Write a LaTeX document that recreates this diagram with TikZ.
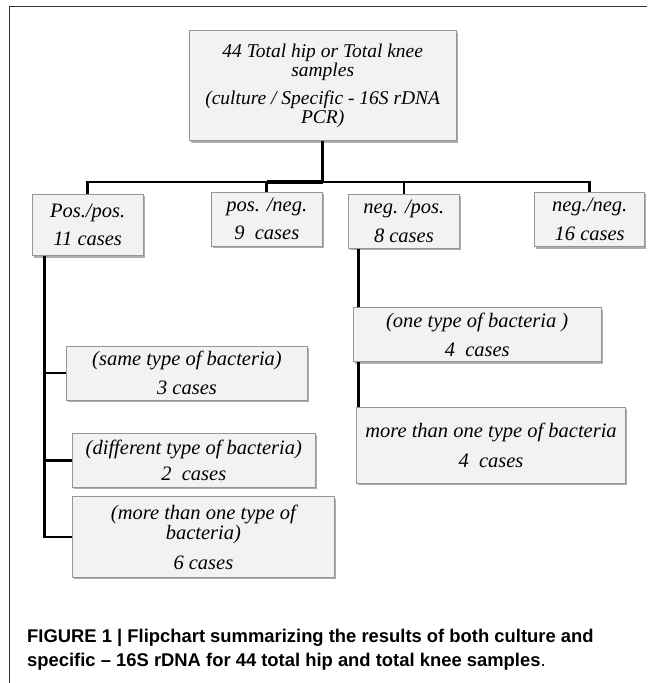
\documentclass[tikz,border=0pt]{standalone}
\usepackage{fontspec}
\setmainfont{Liberation Serif}
\newfontfamily\capfont{Liberation Sans}
\usetikzlibrary{shadows}
\definecolor{boxfill}{RGB}{242,242,242}
\definecolor{boxline}{RGB}{150,150,150}
\tikzset{
  box/.style={draw=boxline, line width=0.7pt, fill=boxfill, inner sep=0pt, align=center,
    font=\itshape\fontsize{20.5}{20.5}\selectfont,
    drop shadow={shadow xshift=1.6pt, shadow yshift=-1.8pt, fill=black!40, opacity=0.8}},
  topbox/.style={box, font=\itshape\fontsize{19.5}{19}\selectfont},
  conn/.style={line width=2.8pt, line cap=butt},
  frame/.style={line width=1pt, draw=black!80},
  captext/.style={anchor=base west, inner sep=0pt, font=\capfont\bfseries\fontsize{18.4}{24.5}\selectfont}
}
\begin{document}
\begin{tikzpicture}[x=1pt, y=-1pt]
\useasboundingbox (0,0) rectangle (657,683);
% frame
\draw[frame] (647,6.7) -- (9,6.7) -- (9,683);

% coordinates for connector routing
\coordinate (j) at (322.7,182);
\coordinate (ppx) at (44.3,0);
\coordinate (npx) at (358.5,0);

% top box
\node[topbox, minimum width=267.3pt, minimum height=110pt] (top) at (322.7,85.7)
  {44 Total hip or Total knee\\samples\\[9pt](culture / Specific - 16S rDNA\\PCR)};

% second level
\node[box, minimum width=111.3pt, minimum height=61.7pt] (pp) at (87.7,224.9)
  {Pos./pos.\\[8pt]11 cases};
\node[box, minimum width=110.4pt, minimum height=54pt] (pn) at (266.8,219)
  {pos. /neg.\\[8pt]9\enspace cases};
\node[box, minimum width=110.3pt, minimum height=54.3pt] (np) at (403.9,221.2)
  {neg. /pos.\\[8pt]8 cases};
\node[box, minimum width=110pt, minimum height=54.4pt] (nn) at (589.7,219.5)
  {neg./neg.\\[8pt]16 cases};

% connectors
\draw[conn] (top.south) -- (j);
\draw[conn] (j) -| (pp.north);
\draw[conn] (j) -| (pn.north);
\draw[conn] (j) -| (np.north);
\draw[conn] (j) -| (nn.north);
\draw[line width=4.5pt] (j) -- (j -| pn.north);

% third level
\node[box, minimum width=240.6pt, minimum height=54pt] (same) at (187,373)
  {(same type of bacteria)\\[9pt]3 cases};
\node[box, minimum width=242.3pt, minimum height=54.3pt] (diff) at (193.8,460.2)
  {(different type of bacteria)\\[6pt]2\enspace cases};
\node[box, minimum width=261.3pt, minimum height=80.3pt] (more6) at (203.4,536.9)
  {(more than one type of\\bacteria)\\[9pt]6 cases};
\node[box, minimum width=247.7pt, minimum height=54pt] (one) at (477.2,334.7)
  {(one type of bacteria )\\[9pt]4\enspace cases};
\node[box, minimum width=268.6pt, minimum height=76.3pt] (more4) at (491,445.2)
  {more than one type of bacteria\\[9pt]4\enspace cases};

\draw[conn] (pp.south -| ppx) |- (same.west);
\draw[conn] (pp.south -| ppx) |- (diff.west);
\draw[conn] (pp.south -| ppx) |- (more6.west);
\draw[conn] (np.south -| npx) -- (one.north -| npx);
\draw[conn] (one.south -| npx) -- (more4.north -| npx);

% caption
\node[captext] (cap1) at (27,642) {FIGURE 1 | Flipchart summarizing the results of both culture and};
\node[captext] (cap2) at (27,666.5) {specific – 16S rDNA for 44 total hip and total knee samples\mdseries.};
\end{tikzpicture}
\end{document}
